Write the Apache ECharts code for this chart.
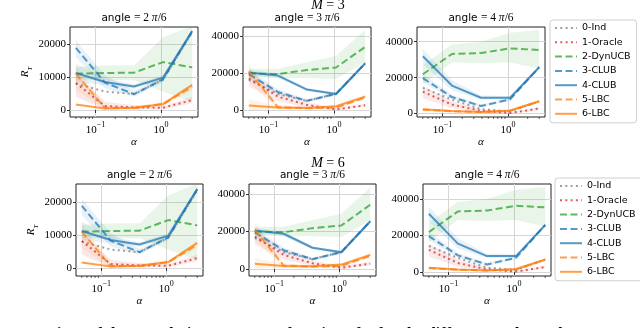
<!DOCTYPE html>
<html>
<head>
<meta charset="utf-8">
<script src="https://cdn.jsdelivr.net/npm/echarts@6/dist/echarts.min.js"></script>
<style>
  html, body { margin: 0; padding: 0; background: #fff; }
  #chart { width: 640px; height: 328px; }
</style>
</head>
<body>
<div id="chart"></div>
<script>
// alpha values (log spaced 0.05 .. 3)
const alphas = [0.05, 0.139, 0.387, 1.077, 3.0];
const minorAlphas = [0.05, 0.06, 0.07, 0.08, 0.09, 0.2, 0.3, 0.4, 0.5, 0.6, 0.7, 0.8, 0.9, 2, 3];
const xTicks = [0.1, 1];
const yTicksSmall = [0, 10000, 20000];
const yTicksBig = [0, 20000, 40000];
const names = ['0-Ind', '1-Oracle', '2-DynUCB', '3-CLUB', '4-CLUB', '5-LBC', '6-LBC'];

// angle = 2 pi/6
const a2Ind = [8000, 5600, 4800, 9200, 23500];
const a2Oracle = [8200, 1200, 800, 700, 3000];
const a2Dyn = [11000, 11200, 11300, 14500, 12900];
const a2Club3 = [18800, 8300, 4800, 9300, 23800];
const a2Club4 = [11200, 8500, 7100, 9800, 23900];
const a2Lbc5 = [11000, 600, 600, 1800, 7000];
const a2Lbc6 = [1700, 500, 700, 1800, 7600];
const a2DynLo = [9000, 9000, 9000, 5500, 2500];
const a2DynHi = [13000, 13500, 13500, 22000, 25500];
const a2Club3Lo = [16000, 6500, 4000, 8500, 23000];
const a2Club3Hi = [21000, 10500, 5800, 10000, 24500];
const a2Club4Lo = [8500, 7500, 6500, 9000, 23000];
const a2Club4Hi = [14000, 9500, 7800, 10500, 24500];
const a2OracleLo = [4000, 200, 200, 300, 2000];
const a2OracleHi = [11000, 2500, 1500, 1200, 4000];
const a2Lbc5Lo = [6000, 200, 300, 1200, 6000];
const a2Lbc5Hi = [13500, 1500, 1200, 2500, 8000];

// angle = 3 pi/6
const a3Ind = [16500, 9000, 5200, 9000, 25400];
const a3Oracle = [17300, 7500, 3000, 600, 2800];
const a3Dyn = [20000, 19600, 21800, 23200, 34300];
const a3Club3 = [19500, 10000, 5200, 9000, 25400];
const a3Club4 = [20500, 18800, 11300, 8900, 25400];
const a3Lbc5 = [20900, 1800, 1200, 1600, 7000];
const a3Lbc6 = [2700, 1600, 1400, 2300, 7500];
const a3DynLo = [18000, 17500, 17500, 17000, 26000];
const a3DynHi = [22500, 22500, 26000, 29500, 43500];
const a3Club3Lo = [17000, 8500, 4500, 8000, 24500];
const a3Club3Hi = [22000, 11500, 6000, 10000, 26500];
const a3Club4Lo = [19000, 17500, 10500, 8000, 24500];
const a3Club4Hi = [22000, 20000, 12000, 9800, 26500];
const a3OracleLo = [13000, 5000, 1500, 0, 2000];
const a3OracleHi = [21000, 10000, 4500, 1500, 3800];
const a3Lbc5Lo = [15500, 500, 500, 1000, 6000];
const a3Lbc5Hi = [25000, 3000, 2000, 2300, 8000];
const a3Lbc6Lo = [0, 800, 800, 1500, 6500];
const a3Lbc6Hi = [6000, 2500, 2000, 3000, 8500];

// angle = 4 pi/6
const a4Ind = [14300, 7800, 2500, 1200, 6800];
const a4Oracle = [12200, 5000, 1500, 300, 2800];
const a4Dyn = [21900, 33200, 33700, 36300, 35400];
const a4Club3 = [19700, 9200, 4200, 7900, 25800];
const a4Club4 = [31900, 15600, 8800, 8800, 25800];
const a4Lbc5 = [2200, 1300, 900, 1500, 6800];
const a4Lbc6 = [2400, 1500, 900, 1700, 6900];
const a4DynLo = [16500, 28500, 28000, 28500, 25000];
const a4DynHi = [27000, 38500, 40000, 45000, 46500];
const a4Club3Lo = [17500, 8000, 3500, 7000, 25000];
const a4Club3Hi = [22000, 10500, 5000, 8800, 26500];
const a4Club4Lo = [27500, 13000, 7800, 7800, 25000];
const a4Club4Hi = [36000, 18500, 10000, 9800, 26500];
const a4OracleLo = [8500, 3000, 500, 0, 2000];
const a4OracleHi = [15500, 7000, 2500, 800, 3600];
const a4Lbc5Lo = [1500, 800, 500, 1000, 6000];
const a4Lbc5Hi = [3000, 1800, 1300, 2000, 7600];

const C = { gray: '#7f7f7f', red: '#d62728', green: '#2ca02c', blue: '#1f77b4', orange: '#ff7f0e' };
const DOT = [2, 3.3], DASH = [7, 3.5];
const styles = [
  { color: C.gray, type: DOT },
  { color: C.red, type: DOT },
  { color: C.green, type: DASH },
  { color: C.blue, type: DASH },
  { color: C.blue, type: 'solid' },
  { color: C.orange, type: DASH },
  { color: C.orange, type: 'solid' }
];

const SERIF = 'Liberation Serif';
const SANS = 'DejaVu Sans';

const panels = [
  { angle: 2, left: 70, top: 27, width: 128, height: 90, y: [-2100, 25100], ticks: yTicksSmall, yName: 36 },
  { angle: 3, left: 243, top: 27, width: 128, height: 90, y: [-3500, 45000], ticks: yTicksBig },
  { angle: 4, left: 417, top: 27, width: 128, height: 90, y: [-1900, 48200], ticks: yTicksBig },
  { angle: 2, left: 76, top: 184, width: 127, height: 92, y: [-2400, 25400], ticks: yTicksSmall, yName: 36 },
  { angle: 3, left: 249, top: 184, width: 127, height: 92, y: [-3800, 45400], ticks: yTicksBig },
  { angle: 4, left: 423, top: 184, width: 128, height: 92, y: [-2100, 48200], ticks: yTicksBig }
];

const lineData = {
  2: [a2Ind, a2Oracle, a2Dyn, a2Club3, a2Club4, a2Lbc5, a2Lbc6],
  3: [a3Ind, a3Oracle, a3Dyn, a3Club3, a3Club4, a3Lbc5, a3Lbc6],
  4: [a4Ind, a4Oracle, a4Dyn, a4Club3, a4Club4, a4Lbc5, a4Lbc6]
};
const bandData = {
  2: [[a2DynLo, a2DynHi, C.green], [a2Club3Lo, a2Club3Hi, C.blue], [a2Club4Lo, a2Club4Hi, C.blue],
      [a2OracleLo, a2OracleHi, C.red], [a2Lbc5Lo, a2Lbc5Hi, C.orange]],
  3: [[a3DynLo, a3DynHi, C.green], [a3Club3Lo, a3Club3Hi, C.blue], [a3Club4Lo, a3Club4Hi, C.blue],
      [a3OracleLo, a3OracleHi, C.red], [a3Lbc5Lo, a3Lbc5Hi, C.orange], [a3Lbc6Lo, a3Lbc6Hi, C.orange]],
  4: [[a4DynLo, a4DynHi, C.green], [a4Club3Lo, a4Club3Hi, C.blue], [a4Club4Lo, a4Club4Hi, C.blue],
      [a4OracleLo, a4OracleHi, C.red], [a4Lbc5Lo, a4Lbc5Hi, C.orange]]
};

// one polygon per segment between two neighbouring alphas
function bandRenderer(color) {
  return function (params, api) {
    const a = api.coord([api.value(0), api.value(1)]);
    const b = api.coord([api.value(0), api.value(2)]);
    const c = api.coord([api.value(3), api.value(5)]);
    const d = api.coord([api.value(3), api.value(4)]);
    return { type: 'polygon', shape: { points: [a, b, c, d] },
      style: { fill: color, opacity: 0.1 } };
  };
}

const grid = [], xAxis = [], yAxis = [], series = [], graphic = [];

panels.forEach(function (p, i) {
  grid.push({ left: p.left, top: p.top, width: p.width, height: p.height, show: true,
    borderColor: '#222', borderWidth: 1, backgroundColor: '#fff' });
  xAxis.push({
    type: 'log', gridIndex: i, min: 0.0407, max: 3.68,
    name: 'α', nameLocation: 'middle', nameGap: 17,
    nameTextStyle: { fontFamily: SERIF, fontStyle: 'italic', fontSize: 11, color: '#000' },
    axisLine: { show: false },
    axisTick: { show: true, length: 3, customValues: xTicks, lineStyle: { color: '#000', width: 0.8 } },
    splitLine: { show: true, lineStyle: { color: '#d6d6d6', width: 1 } },
    axisLabel: {
      customValues: xTicks, margin: 4, color: '#000',
      formatter: function (v) {
        const k = Math.round(Math.log10(v));
        return '{b|10}{s|' + (k < 0 ? '−' + (-k) : k) + '}';
      },
      rich: {
        b: { fontFamily: SERIF, fontSize: 11, lineHeight: 15, verticalAlign: 'bottom', color: '#000' },
        s: { fontFamily: SERIF, fontSize: 8, lineHeight: 15, verticalAlign: 'top', color: '#000' }
      }
    }
  });
  yAxis.push({
    type: 'value', gridIndex: i, min: p.y[0], max: p.y[1],
    name: p.yName ? '{r|R}{t|T}' : '', nameLocation: 'middle', nameGap: p.yName || 0, nameRotate: 90,
    nameTextStyle: { rich: {
      r: { fontFamily: SERIF, fontStyle: 'italic', fontSize: 11, color: '#000', verticalAlign: 'top', lineHeight: 14 },
      t: { fontFamily: SERIF, fontStyle: 'italic', fontSize: 7, color: '#000', verticalAlign: 'bottom', lineHeight: 14 }
    } },
    axisLine: { show: false },
    axisTick: { show: true, length: 3, customValues: p.ticks, lineStyle: { color: '#000', width: 0.8 } },
    splitLine: { show: true, lineStyle: { color: '#d6d6d6', width: 1 } },
    axisLabel: { customValues: p.ticks, margin: 4, fontFamily: SERIF, fontSize: 11, color: '#000',
      formatter: function (v) { return String(v); } }
  });

  bandData[p.angle].forEach(function (b) {
    const segs = [];
    for (let k = 0; k < alphas.length - 1; k++) {
      segs.push([alphas[k], b[0][k], b[1][k], alphas[k + 1], b[0][k + 1], b[1][k + 1]]);
    }
    series.push({
      type: 'custom', name: '_band', xAxisIndex: i, yAxisIndex: i, silent: true, clip: true, z: 1,
      encode: { x: [0, 3], y: [1, 2, 4, 5] },
      renderItem: bandRenderer(b[2]),
      data: segs
    });
  });

  lineData[p.angle].forEach(function (vals, j) {
    series.push({
      type: 'line', name: names[j], xAxisIndex: i, yAxisIndex: i,
      symbol: 'none', silent: true, z: 3,
      color: styles[j].color,
      lineStyle: { color: styles[j].color, type: styles[j].type, width: 2, opacity: 0.75 },
      data: alphas.map(function (a, k) { return [a, vals[k]]; })
    });
  });

  // minor log ticks
  series.push({
    type: 'custom', name: '_minor', xAxisIndex: i, yAxisIndex: i, silent: true, z: 5,
    data: minorAlphas.map(function (a) { return [a, p.y[0]]; }),
    renderItem: function (params, api) {
      const pt = api.coord([api.value(0), api.value(1)]);
      return { type: 'line', shape: { x1: pt[0], y1: pt[1], x2: pt[0], y2: pt[1] + 2 },
        style: { stroke: '#000', lineWidth: 0.6 } };
    }
  });

  graphic.push({
    type: 'text', x: p.left + p.width / 2, y: p.top - 9,
    style: {
      text: '{a|angle} {m|= ' + p.angle + ' }{p|π}{m|/6}',
      align: 'center', verticalAlign: 'middle',
      rich: {
        a: { fontFamily: SANS, fontSize: 10.5, fill: '#000' },
        m: { fontFamily: SERIF, fontSize: 11.5, fill: '#000' },
        p: { fontFamily: SERIF, fontStyle: 'italic', fontSize: 11.5, fill: '#000' }
      }
    }
  });
});

[[5.5, '3'], [163.5, '6']].forEach(function (t) {
  graphic.push({
    type: 'text', x: 328, y: t[0],
    style: { text: '{i|M} {n|= ' + t[1] + '}', align: 'center', verticalAlign: 'middle',
      rich: { i: { fontFamily: SERIF, fontStyle: 'italic', fontSize: 14, fill: '#000' },
              n: { fontFamily: SERIF, fontSize: 14, fill: '#000' } } }
  });
});
graphic.push({
  type: 'text', x: 0, y: 327,
  style: { text: 'Comparison of the cumulative regret as a function of α for the different angles and',
    fontFamily: SERIF, fontSize: 16, fontWeight: 'bold', fill: '#000', verticalAlign: 'top' }
});

function legendAt(left, top) {
  return {
    data: names, orient: 'vertical', left: left, top: top,
    itemWidth: 22, itemHeight: 10, itemGap: 4.3,
    padding: [3, 6, 4, 4],
    backgroundColor: '#fff', borderColor: '#cfcfcf', borderWidth: 1, borderRadius: 3,
    itemStyle: { opacity: 0 },
    textStyle: { fontFamily: SANS, fontSize: 9.5, color: '#000' },
    selectedMode: false
  };
}

const chart = echarts.init(document.getElementById('chart'), null, { renderer: 'canvas' });
chart.setOption({
  animation: false,
  backgroundColor: '#fff',
  grid: grid,
  xAxis: xAxis,
  yAxis: yAxis,
  legend: [legendAt(550, 20), legendAt(555, 178)],
  graphic: graphic,
  series: series
});
</script>
</body>
</html>
